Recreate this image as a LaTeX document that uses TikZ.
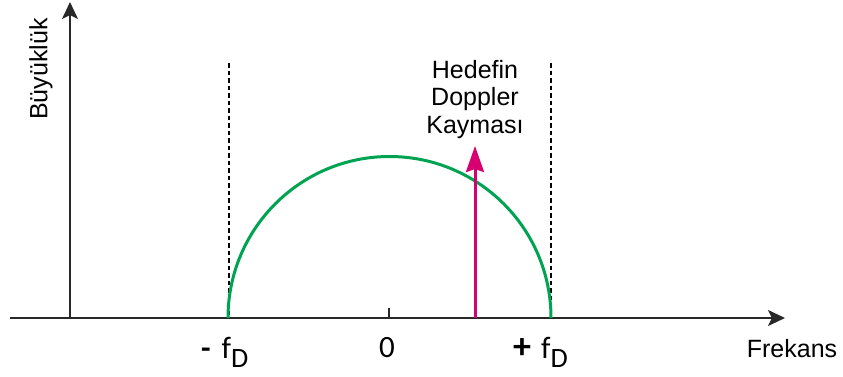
\documentclass[tikz,border=0pt]{standalone}
\usepackage{fontspec}
\setmainfont{Liberation Sans}
\newfontfamily\calib{Carlito}
\usetikzlibrary{arrows.meta}
\definecolor{axisgray}{RGB}{40,40,40}
\definecolor{curvegreen}{RGB}{0,163,82}
\definecolor{shiftpink}{RGB}{214,0,112}
\tikzset{
  axisline/.style={draw=axisgray, line width=1.8pt, -{Stealth[length=17pt,width=16pt,inset=4pt]}},
  guide/.style={draw=black, line width=1.6pt, dash pattern=on 4.5pt off 3pt},
  ticklab/.style={font=\calib\fontsize{31}{34}\selectfont, inner sep=0pt, anchor=base west, text=black},
  axislab/.style={font=\fontsize{25}{29}\selectfont, inner sep=0pt, text=black}
}
\begin{document}
\begin{tikzpicture}[x=1pt,y=-1pt]
\useasboundingbox (0,0) rectangle (843,376);
% axes
\coordinate (hstart) at (10,318);
\coordinate (hend) at (785,318);
\coordinate (vstart) at (70,318);
\coordinate (vend) at (70,2);
\draw[axisline] (hstart) -- (hend);
\draw[axisline] (vstart) -- (vend);
% tick at zero
\coordinate (tickb) at (389,318);
\coordinate (tickt) at (389,308);
\draw[draw=axisgray, line width=1.5pt] (tickb) -- (tickt);
% dashed guides
\coordinate (lgt) at (229,63);
\coordinate (lgb) at (229,318);
\coordinate (rgt) at (551,63);
\coordinate (rgb) at (551,318);
\draw[guide] (lgt) -- (lgb);
\draw[guide] (rgt) -- (rgb);
% green semicircle
\coordinate (cl) at (228,318);
\draw[curvegreen, line width=3pt] (cl) arc[start angle=180, end angle=360, radius=161.5];
% doppler shift arrow
\coordinate (db) at (475,318);
\coordinate (dt) at (475,146);
\draw[shiftpink, line width=3pt, -{Stealth[length=26pt,width=18pt,inset=3pt]}] (db) -- (dt);
% labels
\node[axislab, rotate=90] (ylab) at (41,69) {Büyüklük};
\node[axislab, anchor=base] (xlab) at (792,357) {Frekans};
\node[font=\fontsize{25}{27.5}\selectfont, align=center, inner sep=0pt, anchor=base, text=black] (target) at (475,133) {Hedefin\\Doppler\\Kayması};
\node[ticklab] (mfd) at (201,358) {\textbf{-}\hspace{11pt}f\raisebox{-9pt}{\fontsize{28}{30}\selectfont D}};
\node[ticklab, anchor=base] (zero) at (387,357) {0};
\node[ticklab] (pfd) at (513,358) {{\fontsize{36}{36}\selectfont\textbf{+}}\hspace{10pt}f\raisebox{-9pt}{\fontsize{28}{30}\selectfont D}};
\end{tikzpicture}
\end{document}
